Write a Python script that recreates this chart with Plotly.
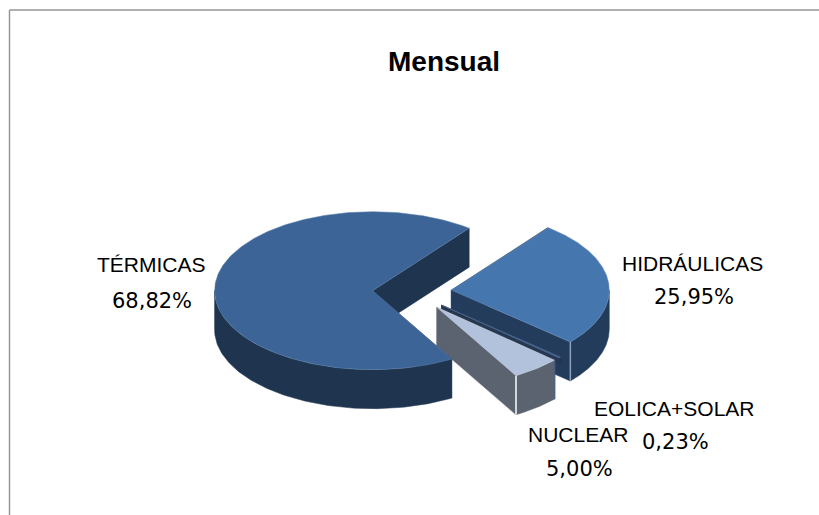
import numpy as np
import plotly.graph_objects as go

# ---- data
categories = ["HIDRÁULICAS", "EOLICA+SOLAR", "NUCLEAR", "TÉRMICAS"]
values = [25.95, 0.23, 5.00, 68.82]
title_text = "Mensual"

# ---- styles
top_colors = ["#4676AE", "#3F5A85", "#B3C2DC", "#3C6496"]
side_colors = ["#233C5C", "#26384F", "#5C6370", "#1F344E"]
edge_colors = ["#6E90BE", "#5A74A0", "#D5DDEB", "#5F84B0"]
corner_colors = ["#8FA3BE", "#26384F", "#FFFFFF", "#1F344E"]
wall_depths = [39.0, 6.0, 39.0, 39.0]
label_pos = [((692, 263), (694, 297)), ((674, 408), (675, 442)),
             ((578, 434), (579, 469)), ((151, 264), (152, 301))]

# ---- pie projection (pixels)
CX, CY = 412.0, 292.0
RX, RY = 158.0, 79.0
PULL = 0.25
START_DEG = 52.3  # clockwise from here

WIN_W, WIN_H = 819, 515


def pt(apex, deg):
    r = np.radians(deg)
    return apex[0] + RX * np.cos(r), apex[1] - RY * np.sin(r)


def poly(xs, ys, fill, line=None, width=0.5):
    return go.Scatter(x=list(xs), y=list(ys), mode="lines", fill="toself",
                      fillcolor=fill, line=dict(color=line or fill, width=width),
                      hoverinfo="skip", showlegend=False)


def vline(x, y0, y1, color, width):
    return go.Scatter(x=[x, x], y=[y0, y1], mode="lines",
                      line=dict(color=color, width=width),
                      hoverinfo="skip", showlegend=False)


fig = go.Figure()
total = sum(values)
angle = START_DEG
for i, v in enumerate(values):
    a0 = angle
    a1 = angle - v / total * 360.0
    angle = a1
    depth = wall_depths[i]
    mid = np.radians((a0 + a1) / 2)
    apex = (CX + PULL * RX * np.cos(mid), CY - PULL * RY * np.sin(mid))

    # cut faces
    for a in (a0, a1):
        ex, ey = pt(apex, a)
        fig.add_trace(poly([apex[0], ex, ex, apex[0], apex[0]],
                           [apex[1], ey, ey + depth, apex[1] + depth, apex[1]],
                           side_colors[i]))
    # outer wall: only the near half of the rim is visible
    for k in (-1, 0):
        l2, h2 = max(a1, 360 * k - 180), min(a0, 360 * k)
        if h2 > l2:
            t = np.linspace(l2, h2, 120)
            xs, ys = pt(apex, t)
            fig.add_trace(poly(np.r_[xs, xs[::-1], xs[0]],
                               np.r_[ys, ys[::-1] + depth, ys[0]], side_colors[i]))
    # top
    t = np.linspace(a0, a1, 300)
    xs, ys = pt(apex, t)
    fig.add_trace(poly(np.r_[apex[0], xs, apex[0]], np.r_[apex[1], ys, apex[1]],
                       top_colors[i], edge_colors[i], 0.5))
    # corner highlights
    ex, ey = pt(apex, a1)
    if i in (0, 2):
        fig.add_trace(vline(ex, ey, ey + depth, corner_colors[i], 1.5))
    if i == 2:
        ex, ey = pt(apex, a0)
        fig.add_trace(vline(ex + 0.5, ey, ey + depth, top_colors[1], 1.0))

FONT = "Liberation Sans"
PCT_FONT = "DejaVu Sans"
anns = [dict(x=444, y=61, text=f"<b>{title_text}</b>", showarrow=False,
             font=dict(family=FONT, size=28, color="#000000"))]
for name, v, (p1, p2) in zip(categories, values, label_pos):
    anns.append(dict(x=p1[0], y=p1[1], text=name, showarrow=False,
                     font=dict(family=FONT, size=21, color="#000000")))
    anns.append(dict(x=p2[0], y=p2[1], text=f"{v:.2f}%".replace(".", ","), showarrow=False,
                     font=dict(family=PCT_FONT, size=21, color="#000000")))

fig.update_layout(
    width=WIN_W, height=WIN_H,
    margin=dict(l=0, r=0, t=0, b=0),
    paper_bgcolor="white", plot_bgcolor="white", showlegend=False,
    xaxis=dict(range=[0, WIN_W], visible=False, fixedrange=True),
    yaxis=dict(range=[WIN_H, 0], visible=False, fixedrange=True),
    annotations=anns,
    shapes=[
        dict(type="line", x0=9.5, x1=WIN_W, y0=10, y1=10, line=dict(color="#969696", width=1.5)),
        dict(type="line", x0=9.5, x1=9.5, y0=10, y1=WIN_H, line=dict(color="#969696", width=1.5)),
    ],
)
fig.write_html("out.html", config=dict(displayModeBar=False),
               post_script="document.body.style.margin='0';document.documentElement.style.overflow='hidden';")
